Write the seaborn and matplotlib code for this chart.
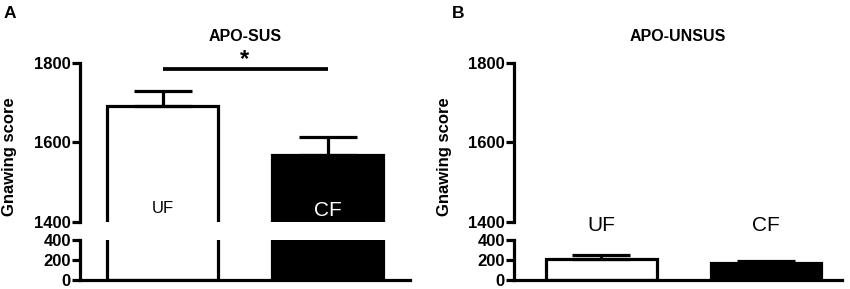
import matplotlib
matplotlib.use("Agg")
import matplotlib.pyplot as plt
import seaborn as sns

# Data
groups = ["UF", "CF"]
sus_mean = [1692, 1569]
sus_sem = [38, 45]
unsus_mean = [210, 168]
unsus_sem = [42, 22]

bar_colors = ["white", "black"]

sns.set_style("ticks", {"axes.edgecolor": "black", "text.color": "black",
                        "xtick.color": "black", "ytick.color": "black"})
plt.rcParams["font.family"] = ["Liberation Sans", "DejaVu Sans"]
plt.rcParams["font.weight"] = "bold"

fig = plt.figure(figsize=(8.5, 2.89), dpi=100)

LW = 2.3


def draw_bars(ax, means, sems):
    sns.barplot(x=groups, y=means, hue=groups, palette=bar_colors, legend=False,
                edgecolor="black", linewidth=LW, width=0.67, errorbar=None,
                saturation=1, ax=ax)
    ax.errorbar(x=[0, 1], y=means, yerr=[[0, 0], sems], fmt="none",
                ecolor="black", elinewidth=LW, capsize=21, capthick=LW)


def style_axes(ax, bottom):
    for s in ["top", "right"]:
        ax.spines[s].set_visible(False)
    ax.spines["left"].set_linewidth(LW)
    ax.spines["bottom"].set_linewidth(LW)
    ax.spines["bottom"].set_visible(bottom)
    ax.tick_params(axis="y", length=5.5, width=LW, labelsize=12, pad=1)
    ax.tick_params(axis="x", length=0, labelbottom=False)
    for t in ax.get_yticklabels():
        t.set_fontweight("bold")
    ax.set_xlabel("")
    ax.set_ylabel("")


def panel(x0, w, means, sems, title, xlim):
    ax_top = fig.add_axes([x0, 0.232, w, 0.550])
    ax_bot = fig.add_axes([x0, 0.031, w, 0.139])
    for ax in (ax_top, ax_bot):
        draw_bars(ax, means, sems)
        ax.set_xlim(*xlim)
    ax_top.set_ylim(1400, 1800)
    ax_top.set_yticks([1400, 1600, 1800])
    ax_bot.set_ylim(0, 400)
    ax_bot.set_yticks([0, 200, 400])
    style_axes(ax_top, False)
    style_axes(ax_bot, True)
    ax_top.set_title(title, fontsize=11.5, fontweight="bold", pad=16)
    return ax_top, ax_bot


# Panel A
a_top, a_bot = panel(80 / 850, 330 / 850, sus_mean, sus_sem, "APO-SUS", (-0.5, 1.5))
a_top.text(0, 1435, "UF", ha="center", va="center", fontsize=12, fontweight="normal")
a_top.text(1, 1430, "CF", ha="center", va="center", fontsize=15, fontweight="normal",
           color="white")
a_top.plot([0, 1], [1785, 1785], color="black", lw=LW + 0.4, clip_on=False,
           solid_capstyle="butt")
a_top.text(0.5, 1810, "*", ha="center", va="center", fontsize=17, fontweight="bold")

# Panel B
b_top, b_bot = panel(514 / 850, 328 / 850, unsus_mean, unsus_sem, "APO-UNSUS", (-0.53, 1.46))
b_top.text(0, 1392, "UF", ha="center", va="center", fontsize=15, fontweight="normal")
b_top.text(1, 1392, "CF", ha="center", va="center", fontsize=15, fontweight="normal")

# y labels and panel letters
fig.text(10 / 850, 1 - 157 / 289, "Gnawing score", rotation=90, ha="center",
         va="center", fontsize=12, fontweight="bold")
fig.text(444 / 850, 1 - 157 / 289, "Gnawing score", rotation=90, ha="center",
         va="center", fontsize=12, fontweight="bold")
fig.text(10 / 850, 1 - 13 / 289, "A", ha="center", va="center", fontsize=12.5,
         fontweight="bold")
fig.text(458 / 850, 1 - 14 / 289, "B", ha="center", va="center", fontsize=12.5,
         fontweight="bold")

fig.savefig("out.png", dpi=100)
